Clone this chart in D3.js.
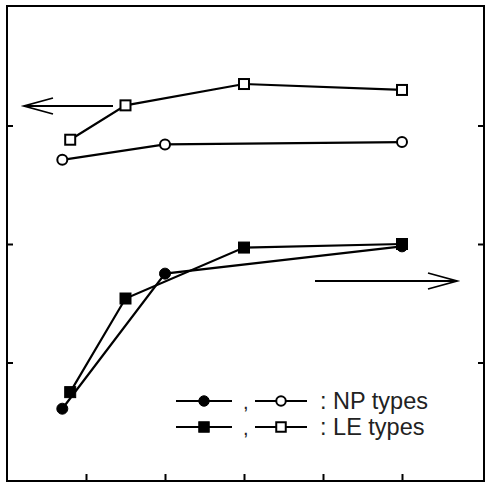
<!DOCTYPE html>
<html>
<head>
<meta charset="utf-8">
<script src="https://cdn.jsdelivr.net/npm/d3@7"></script>
<style>
  html, body { margin: 0; padding: 0; background: #fff; }
  svg { display: block; }
  .axis path { display: none; }
  .axis line { stroke: #000; stroke-width: 2; }
  text { font-family: "Liberation Sans", Arial, sans-serif; fill: #222; }
</style>
</head>
<body>
<div id="chart"></div>
<script>
'use strict';

// x positions of the samples
var npX = [0.7, 2, 5],
    leX = [0.8, 1.5, 3, 5];

// left axis series (open markers)
var npLeft = [2.71, 2.84, 2.86],
    leLeft = [2.88, 3.17, 3.35, 3.30];

// right axis series (filled markers)
var npRight = [0.61, 1.75, 1.98],
    leRight = [0.75, 1.54, 1.97, 2.0];

var xTicks = [1, 2, 3, 4, 5],
    yTicks = [1, 2, 3];

var legendLabels = [': NP types', ': LE types'];

var W = 490, H = 490,
    frame = { left: 7, top: 6, right: 484, bottom: 481 };

var svg = d3.select('#chart').append('svg').attr('width', W).attr('height', H);

var x = d3.scaleLinear().domain([0, 6]).range([frame.left, 481]),
    yL = d3.scaleLinear().domain([0, 4]).range([frame.bottom, frame.top + 1]),
    yR = d3.scaleLinear().domain([0, 4]).range([frame.bottom, frame.top + 1]);

// axes: ticks pointing inward, no labels
svg.append('g').attr('class', 'axis')
  .attr('transform', 'translate(' + frame.left + ',0)')
  .call(d3.axisLeft(yL).tickValues(yTicks).tickSize(-6).tickFormat(''));
svg.append('g').attr('class', 'axis')
  .attr('transform', 'translate(' + frame.right + ',0)')
  .call(d3.axisRight(yR).tickValues(yTicks).tickSize(-6).tickFormat(''));
svg.append('g').attr('class', 'axis')
  .attr('transform', 'translate(0,' + frame.bottom + ')')
  .call(d3.axisBottom(x).tickValues(xTicks).tickSize(-7).tickFormat(''));

svg.append('rect')
  .attr('x', frame.left).attr('y', frame.top)
  .attr('width', frame.right - frame.left).attr('height', frame.bottom - frame.top)
  .attr('fill', 'none').attr('stroke', '#000').attr('stroke-width', 2);

function zip(xs, ys) {
  return xs.map(function (d, i) { return [d, ys[i]]; });
}

var series = [
  { pts: zip(leX, leLeft), y: yL, shape: 'square', filled: false },
  { pts: zip(npX, npLeft), y: yL, shape: 'circle', filled: false },
  { pts: zip(leX, leRight), y: yR, shape: 'square', filled: true },
  { pts: zip(npX, npRight), y: yR, shape: 'circle', filled: true }
];

function drawMarker(g, shape, filled, cx, cy, k) {
  k = k || 1;
  if (shape === 'circle') {
    g.append('circle').attr('cx', cx).attr('cy', cy)
      .attr('r', (filled ? 5.5 : 5) * k)
      .attr('fill', filled ? '#000' : '#fff')
      .attr('stroke', '#000').attr('stroke-width', filled ? 1 : 2);
  } else {
    var s = (filled ? 11 : 10) * k;
    g.append('rect').attr('x', cx - s / 2).attr('y', cy - s / 2)
      .attr('width', s).attr('height', s)
      .attr('fill', filled ? '#000' : '#fff')
      .attr('stroke', '#000').attr('stroke-width', filled ? 1 : 2);
  }
}

series.forEach(function (s) {
  var line = d3.line().x(function (d) { return x(d[0]); }).y(function (d) { return s.y(d[1]); });
  svg.append('path').datum(s.pts).attr('d', line)
    .attr('fill', 'none').attr('stroke', '#000').attr('stroke-width', 2.2);
});
series.forEach(function (s) {
  var g = svg.append('g');
  s.pts.forEach(function (d) { drawMarker(g, s.shape, s.filled, x(d[0]), s.y(d[1])); });
});

// axis direction arrows
function arrow(x1, x2, yy, dir) {
  var g = svg.append('g').attr('stroke', '#000').attr('stroke-width', 1.8).attr('fill', 'none');
  g.append('line').attr('x1', x1).attr('x2', x2).attr('y1', yy).attr('y2', yy);
  g.append('path').attr('d', 'M' + (x2 - dir * 29) + ',' + (yy - 8) + 'L' + x2 + ',' + yy + 'L' + (x2 - dir * 29) + ',' + (yy + 8));
}
arrow(113, 24, 106, -1);
arrow(315, 457, 281, 1);

// legend
var legendRows = [
  { shape: 'circle', y: 401 },
  { shape: 'square', y: 427 }
];
legendRows.forEach(function (r, i) {
  var g = svg.append('g');
  g.append('line').attr('x1', 176).attr('x2', 232).attr('y1', r.y).attr('y2', r.y)
    .attr('stroke', '#000').attr('stroke-width', 2);
  drawMarker(g, r.shape, true, 204, r.y, 0.95);
  g.append('text').attr('x', 243).attr('y', r.y + 8).attr('font-size', 20).text(',');
  g.append('line').attr('x1', 255).attr('x2', 307).attr('y1', r.y).attr('y2', r.y)
    .attr('stroke', '#000').attr('stroke-width', 2);
  drawMarker(g, r.shape, false, 281, r.y, 0.95);
  g.append('text').attr('x', 320).attr('y', r.y + 8).attr('font-size', 23.5).text(legendLabels[i]);
});
</script>
</body>
</html>
